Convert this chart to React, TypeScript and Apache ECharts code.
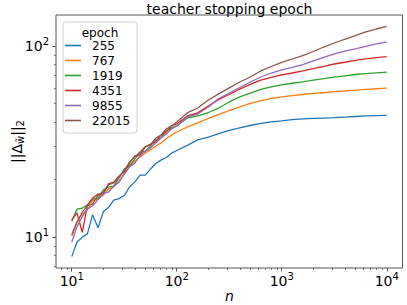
import React, { useEffect, useRef } from 'react';
import * as echarts from 'echarts';

const N = [10, 11.2, 12.6, 14.1, 15.8, 17.8, 20, 22.4, 25.1, 28.2, 31.6, 35.5, 39.8, 44.7, 50.1, 56.2, 63.1, 70.8, 79.4, 89.1, 100, 126, 158, 200, 251, 316, 398, 501, 631, 794, 1000, 1259, 1585, 1995, 2512, 3162, 3981, 5012, 6310, 7943, 10000];

const EPOCHS = ['255', '767', '1919', '4351', '9855', '22015'];

const S255 = [7.9, 9.4, 10.0, 10.4, 13.1, 11.2, 13.6, 14.3, 15.6, 15.9, 16.5, 18.3, 19.4, 21.1, 21.1, 22.7, 24.3, 25.3, 26.1, 27.5, 28.4, 30.2, 32.3, 33.4, 34.8, 36.2, 37.3, 38.4, 39.4, 40.1, 40.6, 41.2, 41.6, 41.8, 42.0, 42.2, 42.5, 42.8, 43.1, 43.3, 43.4];
const S767 = [10.1, 11.9, 13.2, 13.9, 15.5, 15.8, 16.6, 17.9, 18.3, 19.7, 21.4, 23.3, 25.0, 26.3, 27.6, 28.6, 30.0, 31.1, 32.7, 34.2, 35.5, 37.7, 39.6, 41.8, 43.9, 46.0, 48.0, 50.1, 51.6, 53.2, 54.2, 55.0, 55.8, 56.5, 57.0, 57.7, 58.2, 58.8, 59.4, 59.8, 60.2];
const S1919 = [12.1, 14.0, 14.2, 14.7, 15.8, 16.0, 17.7, 18.3, 18.5, 20.4, 22.7, 23.6, 25.6, 27.6, 28.2, 30.0, 32.3, 33.0, 35.9, 37.3, 38.2, 42.0, 43.1, 44.9, 47.4, 51.0, 54.2, 56.8, 59.3, 61.1, 62.6, 63.9, 64.9, 66.3, 67.5, 68.8, 69.9, 71.0, 71.8, 72.4, 73.0];
const S4351 = [12.3, 13.4, 10.6, 14.7, 16.0, 16.8, 16.8, 19.0, 19.4, 20.9, 21.9, 24.4, 26.6, 26.9, 29.7, 30.7, 31.5, 34.2, 35.5, 38.2, 39.1, 43.1, 44.7, 48.6, 52.6, 55.8, 59.6, 63.0, 66.3, 68.5, 70.6, 72.3, 74.1, 76.2, 78.4, 80.6, 82.3, 84.1, 85.8, 87.1, 88.0];
const S9855 = [9.4, 11.3, 12.8, 14.0, 14.6, 15.7, 17.0, 17.2, 18.5, 19.4, 21.4, 23.3, 24.4, 26.6, 28.2, 29.3, 31.1, 33.0, 34.7, 36.8, 38.2, 42.6, 44.1, 48.0, 53.2, 56.8, 60.7, 64.9, 68.9, 72.3, 75.0, 77.3, 80.0, 83.6, 87.4, 91.0, 94.0, 96.8, 99.8, 102.6, 105.1];
const S22015 = [10.3, 12.0, 13.5, 14.6, 14.9, 16.6, 17.2, 18.8, 19.2, 20.6, 22.2, 24.7, 26.3, 27.9, 29.7, 30.4, 33.0, 34.2, 36.8, 38.2, 40.1, 44.7, 47.4, 52.2, 56.2, 60.4, 64.9, 68.9, 74.1, 78.2, 82.1, 85.6, 89.1, 93.7, 98.9, 103.8, 108.6, 113.5, 118.6, 122.9, 126.7];

const SERIES = [S255, S767, S1919, S4351, S9855, S22015];
const COLORS = ['#1f77b4', '#ff7f0e', '#2ca02c', '#d62728', '#9467bd', '#8c564b'];

const X_MAJOR = [10, 100, 1000, 10000];
const X_MINOR = [8, 9, 20, 30, 40, 50, 60, 70, 80, 90, 200, 300, 400, 500, 600, 700, 800, 900, 2000, 3000, 4000, 5000, 6000, 7000, 8000, 9000];
const Y_MAJOR = [10, 100];
const Y_MINOR = [7, 8, 9, 20, 30, 40, 50, 60, 70, 80, 90];
const X_RANGE = [7.08, 14125];
const Y_RANGE = [6.89, 145.5];

const FONT = 'DejaVu Sans';
const SPINE = '#555';
const lg = (v: number) => Math.log10(v);

const tickRich = {
  b: { fontSize: 14, lineHeight: 20, color: '#000', fontFamily: FONT },
  s: { fontSize: 10, lineHeight: 10, verticalAlign: 'top', color: '#000', fontFamily: FONT },
};
const fmt = (v: number) => `{b|10}{s|${Math.round(v)}}`;

export default function App() {
  const ref = useRef<HTMLDivElement>(null);
  useEffect(() => {
    if (!ref.current) return;
    const chart = echarts.init(ref.current, null, { renderer: 'svg' });
    const xmin = lg(X_RANGE[0]);
    const xmax = lg(X_RANGE[1]);
    const ymin = lg(Y_RANGE[0]);
    const ymax = lg(Y_RANGE[1]);
    const option: any = {
      animation: false,
      textStyle: { fontFamily: FONT },
      grid: { left: 56, top: 15, width: 346.5, height: 253, show: true, borderColor: SPINE, borderWidth: 1, backgroundColor: 'transparent' },
      xAxis: [
        {
          type: 'value', min: xmin, max: xmax, position: 'bottom',
          splitLine: { show: false }, axisLine: { show: false },
          axisTick: { show: true, customValues: X_MAJOR.map(lg), length: 3.5, lineStyle: { color: SPINE, width: 1 } },
          axisLabel: { show: true, customValues: X_MAJOR.map(lg), formatter: fmt, rich: tickRich, margin: 3 },
        },
        {
          type: 'value', min: xmin, max: xmax, position: 'bottom',
          splitLine: { show: false }, axisLine: { show: false }, axisLabel: { show: false },
          axisTick: { show: true, customValues: X_MINOR.map(lg), length: 2, lineStyle: { color: SPINE, width: 0.8 } },
        },
      ],
      yAxis: [
        {
          type: 'value', min: ymin, max: ymax, position: 'left',
          splitLine: { show: false }, axisLine: { show: false },
          axisTick: { show: true, customValues: Y_MAJOR.map(lg), length: 3.5, lineStyle: { color: SPINE, width: 1 } },
          axisLabel: { show: true, customValues: Y_MAJOR.map(lg), formatter: fmt, rich: tickRich, margin: 7 },
        },
        {
          type: 'value', min: ymin, max: ymax, position: 'left', offset: 0,
          splitLine: { show: false }, axisLine: { show: false }, axisLabel: { show: false },
          axisTick: { show: true, customValues: Y_MINOR.map(lg), length: 2, lineStyle: { color: SPINE, width: 0.8 } },
        },
      ],
      legend: {
        orient: 'vertical', left: 65, top: 38, padding: 0, itemGap: 0,
        itemWidth: 16, itemHeight: 1.6, selectedMode: false,
        data: EPOCHS.map((e) => ({ name: e, icon: 'rect' })),
        textStyle: { fontSize: 12, lineHeight: 15, height: 15, padding: [0, 0, 0, 6], color: '#000', fontFamily: FONT },
      },
      series: SERIES.map((s, i) => ({
        name: EPOCHS[i], type: 'line', xAxisIndex: 0, yAxisIndex: 0,
        showSymbol: false, symbol: 'none', color: COLORS[i],
        lineStyle: { width: 1.3, color: COLORS[i] },
        data: N.map((n, j) => [lg(n), lg(s[j])]),
      })),
      graphic: [
        { type: 'text', x: 229.5, y: 8.5, z: 10, style: { text: 'teacher stopping epoch', fontSize: 14, fontFamily: FONT, fill: '#000', align: 'center', verticalAlign: 'middle' } },
        { type: 'rect', z: 3, shape: { x: 63, y: 22, width: 74, height: 111, r: 3 }, style: { fill: 'rgba(255,255,255,0.8)', stroke: '#d0d0d0', lineWidth: 1 } },
        { type: 'text', x: 100, y: 32.7, z: 10, style: { text: 'epoch', fontSize: 12, fontFamily: FONT, fill: '#000', align: 'center', verticalAlign: 'middle' } },
        { type: 'text', x: 229.5, y: 296, z: 10, style: { text: 'n', fontSize: 14, fontStyle: 'italic', fontFamily: FONT, fill: '#000', align: 'center', verticalAlign: 'middle' } },
        {
          type: 'text', x: 16.5, y: 141.5, rotation: Math.PI / 2, z: 10,
          style: {
            text: '{a|||Δ}{s|w\u0303}{a|||}{s|2}', align: 'center', verticalAlign: 'middle',
            rich: {
              a: { fontSize: 14, lineHeight: 18, fontFamily: FONT, fill: '#000' },
              s: { fontSize: 10, lineHeight: 8, verticalAlign: 'bottom', fontFamily: FONT, fill: '#000' },
            },
          },
        },
      ],
    };
    chart.setOption(option);
    return () => chart.dispose();
  }, []);
  return <div ref={ref} style={{ position: 'absolute', left: 0, top: 0, width: 407, height: 305 }} />;
}
